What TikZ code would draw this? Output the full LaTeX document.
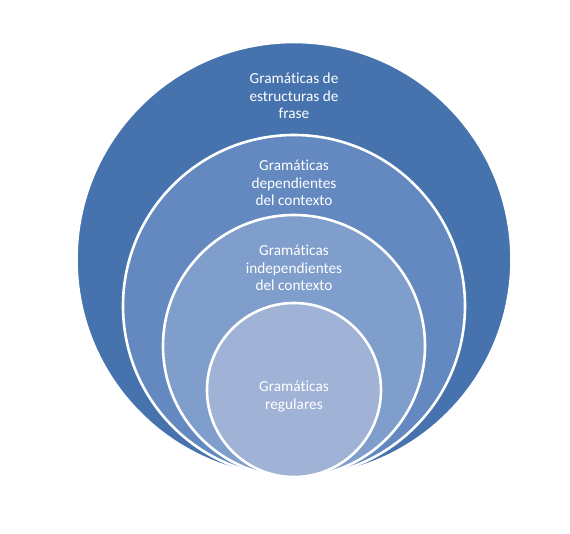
\documentclass[tikz,border=0pt]{standalone}
\usepackage{fontspec}
\setmainfont[Ligatures={NoCommon}]{Carlito}
\usepackage{tikz}
\usetikzlibrary{positioning}
\definecolor{ringdark}{HTML}{4673AD}
\definecolor{ringmid}{HTML}{6389C0}
\definecolor{ringlt}{HTML}{7F9ECB}
\definecolor{ringpale}{HTML}{A0B3D7}

\begin{document}
\begin{tikzpicture}[x=1pt, y=-1pt,
  ring/.style={circle, draw=white, line width=2.6pt, inner sep=0pt},
  lbl/.style={text=white, font=\fontsize{15.3}{17.3}\selectfont, align=center, inner sep=0pt},
]
\useasboundingbox (0,0) rectangle (570,534);

% ── Stacked circles, all touching at the bottom ──
\node[ring, fill=ringdark, minimum size=435pt] (estr) at (294,259.5) {};
\node[ring, fill=ringmid, minimum size=342pt] (dep) at (294,306) {};
\node[ring, fill=ringlt, minimum size=262pt] (indep) at (294,346) {};
\node[ring, fill=ringpale, minimum size=174pt] (reg) at (294,390) {};

% ── Labels ──
\node[lbl] (estrTxt) at (294,96) {Gramáticas de\\estructuras de\\frase};
\node[lbl] (depTxt) at (294,183) {Gramáticas\\dependientes\\del contexto};
\node[lbl] (indepTxt) at (294,268) {Gramáticas\\independientes\\del contexto};
\node[lbl] (regTxt) at (294,396.5) {Gramáticas\\regulares};

\end{tikzpicture}
\end{document}
